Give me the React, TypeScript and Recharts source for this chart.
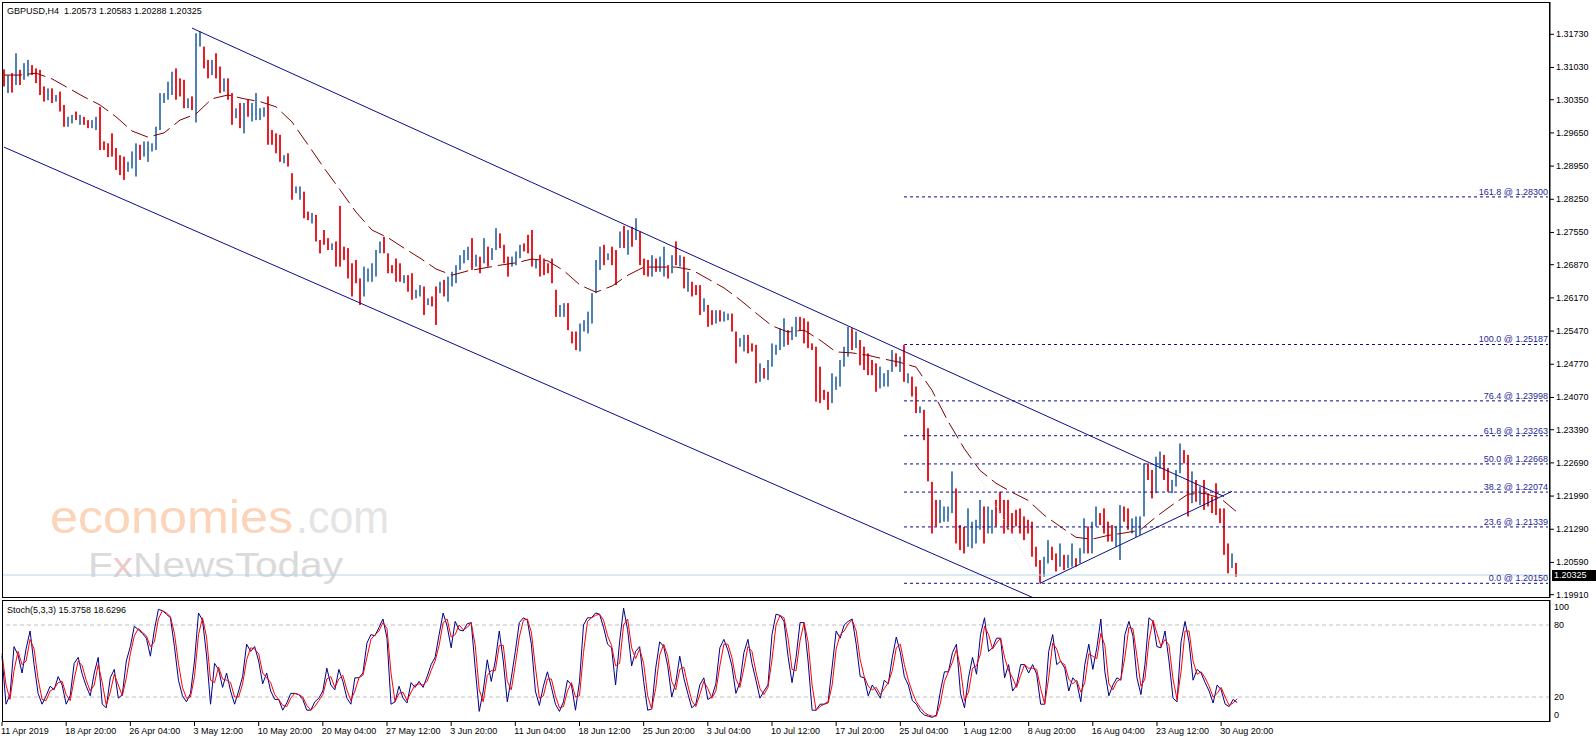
import React from 'react';
import { ComposedChart, Bar, Line, XAxis, YAxis, ReferenceLine } from 'recharts';

// GBPUSD H4, one row = two H4 bars
const SYMBOL = 'GBPUSD,H4';
const QUOTE = ['1.20573', '1.20583', '1.20288', '1.20325'];
const STOCH_TITLE = 'Stoch(5,3,3) 15.3758 18.6296';
const BID = 1.20325;
const SLOTS = 387; // chart shift: empty slots on the right

const highs = [
  1.3099, 1.3087, 1.3091, 1.3133, 1.3098, 1.3112, 1.3119, 1.3108, 1.3101, 1.3098,
  1.3063, 1.3059, 1.3059, 1.3045, 1.3052, 1.3024, 1.2999, 1.3003, 1.3010, 1.3003,
  1.2999, 1.2992, 1.2992, 1.2999, 1.3020, 1.2947, 1.2943, 1.2964, 1.2933, 1.2918,
  1.2915, 1.2904, 1.2926, 1.2943, 1.2940, 1.2947, 1.2947, 1.2943, 1.2978, 1.3049,
  1.3049, 1.3073, 1.3094, 1.3101, 1.3080, 1.3077, 1.3038, 1.3042, 1.3175, 1.3179,
  1.3147, 1.3119, 1.3119, 1.3133, 1.3105, 1.3080, 1.3080, 1.3049, 1.3017, 1.3028,
  1.3028, 1.3035, 1.3028, 1.3049, 1.3017, 1.3019, 1.3042, 1.2971, 1.2964, 1.2961,
  1.2918, 1.2922, 1.2880, 1.2852, 1.2852, 1.2841, 1.2799, 1.2796, 1.2792, 1.2739,
  1.2760, 1.2743, 1.2732, 1.2736, 1.2811, 1.2725, 1.2722, 1.2690, 1.2697, 1.2658,
  1.2683, 1.2679, 1.2690, 1.2718, 1.2736, 1.2746, 1.2711, 1.2686, 1.2700, 1.2690,
  1.2665, 1.2665, 1.2669, 1.2634, 1.2644, 1.2641, 1.2616, 1.2620, 1.2641, 1.2651,
  1.2655, 1.2662, 1.2672, 1.2686, 1.2707, 1.2718, 1.2725, 1.2743, 1.2708, 1.2704,
  1.2743, 1.2725, 1.2722, 1.2764, 1.2753, 1.2729, 1.2704, 1.2704, 1.2715, 1.2729,
  1.2732, 1.2750, 1.2760, 1.2697, 1.2708, 1.2700, 1.2690, 1.2700, 1.2634, 1.2602,
  1.2606, 1.2606, 1.2546, 1.2546, 1.2563, 1.2570, 1.2588, 1.2627, 1.2697, 1.2725,
  1.2729, 1.2711, 1.2725, 1.2718, 1.2757, 1.2769, 1.2760, 1.2767, 1.2785, 1.2757,
  1.2700, 1.2697, 1.2707, 1.2700, 1.2704, 1.2725, 1.2686, 1.2707, 1.2736, 1.2707,
  1.2704, 1.2672, 1.2651, 1.2644, 1.2644, 1.2616, 1.2602, 1.2591, 1.2591, 1.2591,
  1.2588, 1.2584, 1.2584, 1.2546, 1.2532, 1.2539, 1.2539, 1.2521, 1.2518, 1.2479,
  1.2469, 1.2486, 1.2521, 1.2518, 1.2553, 1.2574, 1.2549, 1.2556, 1.2577, 1.2577,
  1.2574, 1.2567, 1.2521, 1.2514, 1.2472, 1.2423, 1.2419, 1.2458, 1.2451, 1.2486,
  1.2514, 1.2556, 1.2553, 1.2546, 1.2528, 1.2514, 1.2500, 1.2486, 1.2479, 1.2472,
  1.2458, 1.2465, 1.2507, 1.2500, 1.2493, 1.2518, 1.2458, 1.2451, 1.2430, 1.2388,
  1.2381, 1.2342, 1.2229, 1.2191, 1.2191, 1.2177, 1.2177, 1.2251, 1.2215, 1.2138,
  1.2134, 1.2173, 1.2145, 1.2149, 1.2191, 1.2177, 1.2177, 1.2170, 1.2191, 1.2208,
  1.2191, 1.2191, 1.2163, 1.2170, 1.2173, 1.2156, 1.2149, 1.2145, 1.2092, 1.2064,
  1.2071, 1.2106, 1.2092, 1.2078, 1.2099, 1.2075, 1.2075, 1.2099, 1.2068, 1.2089,
  1.2152, 1.2135, 1.2145, 1.2177, 1.2163, 1.2173, 1.2145, 1.2138, 1.2135, 1.2180,
  1.2177, 1.2173, 1.2152, 1.2156, 1.2156, 1.2268, 1.2268, 1.2254, 1.2282, 1.2293,
  1.2286, 1.2258, 1.2233, 1.2254, 1.2310, 1.2296, 1.2286, 1.2251, 1.2233, 1.2219,
  1.2233, 1.2205, 1.2198, 1.2226, 1.2173, 1.2173, 1.2099, 1.2078, 1.2058,
];

const lows = [
  1.3063, 1.3049, 1.3050, 1.3066, 1.3066, 1.3077, 1.3084, 1.3087, 1.3070, 1.3045,
  1.3031, 1.3034, 1.3028, 1.3031, 1.3010, 1.2978, 1.2978, 1.2985, 1.2992, 1.2982,
  1.2982, 1.2975, 1.2975, 1.2971, 1.2929, 1.2929, 1.2914, 1.2915, 1.2887, 1.2876,
  1.2866, 1.2883, 1.2890, 1.2873, 1.2908, 1.2915, 1.2904, 1.2926, 1.2929, 1.2971,
  1.3028, 1.3035, 1.3045, 1.3035, 1.3042, 1.3017, 1.3017, 1.3013, 1.2987, 1.3147,
  1.3101, 1.3080, 1.3087, 1.3080, 1.3049, 1.3052, 1.3035, 1.2982, 1.2996, 1.2975,
  1.2964, 1.2999, 1.2989, 1.2992, 1.2992, 1.2999, 1.2940, 1.2940, 1.2922, 1.2904,
  1.2901, 1.2894, 1.2824, 1.2838, 1.2824, 1.2785, 1.2781, 1.2774, 1.2736, 1.2711,
  1.2729, 1.2718, 1.2718, 1.2683, 1.2683, 1.2697, 1.2658, 1.2620, 1.2648, 1.2602,
  1.2620, 1.2651, 1.2651, 1.2662, 1.2711, 1.2711, 1.2669, 1.2669, 1.2651, 1.2651,
  1.2648, 1.2630, 1.2613, 1.2616, 1.2620, 1.2581, 1.2602, 1.2599, 1.2560, 1.2627,
  1.2620, 1.2609, 1.2641, 1.2648, 1.2676, 1.2690, 1.2697, 1.2676, 1.2683, 1.2669,
  1.2690, 1.2683, 1.2697, 1.2718, 1.2722, 1.2690, 1.2662, 1.2683, 1.2686, 1.2701,
  1.2715, 1.2711, 1.2683, 1.2679, 1.2662, 1.2665, 1.2669, 1.2648, 1.2577, 1.2577,
  1.2577, 1.2549, 1.2521, 1.2507, 1.2504, 1.2546, 1.2542, 1.2563, 1.2627, 1.2676,
  1.2686, 1.2697, 1.2686, 1.2644, 1.2722, 1.2722, 1.2708, 1.2725, 1.2739, 1.2686,
  1.2665, 1.2662, 1.2662, 1.2672, 1.2672, 1.2662, 1.2658, 1.2669, 1.2686, 1.2683,
  1.2637, 1.2630, 1.2620, 1.2623, 1.2581, 1.2588, 1.2556, 1.2560, 1.2563, 1.2567,
  1.2567, 1.2570, 1.2546, 1.2479, 1.2514, 1.2504, 1.2500, 1.2504, 1.2437, 1.2440,
  1.2447, 1.2444, 1.2472, 1.2497, 1.2507, 1.2514, 1.2518, 1.2528, 1.2535, 1.2549,
  1.2521, 1.2511, 1.2507, 1.2398, 1.2395, 1.2402, 1.2381, 1.2395, 1.2423, 1.2430,
  1.2472, 1.2493, 1.2507, 1.2511, 1.2475, 1.2465, 1.2454, 1.2454, 1.2419, 1.2426,
  1.2430, 1.2430, 1.2461, 1.2472, 1.2461, 1.2440, 1.2437, 1.2409, 1.2374, 1.2374,
  1.2317, 1.2230, 1.2120, 1.2135, 1.2142, 1.2145, 1.2145, 1.2163, 1.2099, 1.2085,
  1.2078, 1.2092, 1.2089, 1.2099, 1.2128, 1.2099, 1.2120, 1.2120, 1.2135, 1.2163,
  1.2120, 1.2128, 1.2120, 1.2135, 1.2120, 1.2106, 1.2120, 1.2071, 1.2050, 1.2015,
  1.2029, 1.2057, 1.2064, 1.2040, 1.2050, 1.2043, 1.2047, 1.2050, 1.2050, 1.2057,
  1.2078, 1.2078, 1.2078, 1.2135, 1.2138, 1.2120, 1.2103, 1.2103, 1.2092, 1.2064,
  1.2145, 1.2128, 1.2120, 1.2113, 1.2117, 1.2156, 1.2233, 1.2194, 1.2205, 1.2257,
  1.2233, 1.2208, 1.2205, 1.2219, 1.2247, 1.2268, 1.2156, 1.2184, 1.2187, 1.2180,
  1.2170, 1.2177, 1.2163, 1.2159, 1.2142, 1.2075, 1.2036, 1.2047, 1.2029,
];

// u = bull bar, d = bear bar
const dirs = [
  'dududuuddd', 'dududduudu', 'dduudddddd', 'duuuduuuuu', 'uuuddduduu',
  'ddudduddud', 'uduuuudddd', 'udduuddudd', 'dduddddddd', 'uuuuuddddd',
  'udduududdu', 'duuuuuudud', 'uduuddduuu', 'dddudddddu', 'uddduuuuuu',
  'duddududud', 'dduduududu', 'duddduddud', 'uudduudddu', 'duuuuuduud',
  'ddddddduuu', 'uududddddu', 'uuudududdu', 'dddduuuudd', 'duuuuduudd',
  'dddddddddd', 'uudduduudu', 'uduudddduu', 'dduuuudduu', 'dduuuddudu',
  'dddddddud',
].join('');

// moving average, one value every 4 rows
const maValues = [
  1.3087, 1.3087, 1.3091, 1.3079, 1.3060, 1.3041, 1.3024, 1.2999, 1.2969, 1.2956,
  1.2965, 1.2992, 1.3005, 1.3037, 1.3045, 1.3037, 1.3031, 1.3020, 1.2988, 1.2940,
  1.2891, 1.2845, 1.2798, 1.2760, 1.2744, 1.2722, 1.2701, 1.2678, 1.2665, 1.2674,
  1.2680, 1.2686, 1.2691, 1.2699, 1.2695, 1.2674, 1.2644, 1.2629, 1.2642, 1.2665,
  1.2682, 1.2682, 1.2682, 1.2676, 1.2657, 1.2638, 1.2613, 1.2585, 1.2558, 1.2545,
  1.2549, 1.2528, 1.2503, 1.2501, 1.2496, 1.2488, 1.2481, 1.2471, 1.2422, 1.2357,
  1.2300, 1.2253, 1.2226, 1.2207, 1.2190, 1.2159, 1.2135, 1.2112, 1.2108, 1.2116,
  1.2121, 1.2127, 1.2155, 1.2180, 1.2203, 1.2205, 1.2195, 1.2167,
];

const stochMain = [
  54, 14, 22, 62, 55, 40, 60, 75, 47, 23, 14, 21, 29, 26, 37, 30, 14, 21, 48, 53,
  39, 29, 21, 40, 53, 14, 11, 36, 43, 19, 22, 50, 62, 79, 76, 73, 69, 54, 76, 93,
  92, 89, 86, 62, 34, 21, 16, 23, 50, 90, 84, 55, 14, 48, 43, 28, 40, 25, 14, 25,
  37, 64, 58, 62, 50, 31, 40, 25, 18, 18, 9, 15, 23, 23, 22, 18, 9, 9, 16, 19,
  25, 44, 30, 26, 43, 33, 19, 14, 36, 36, 40, 65, 72, 71, 78, 85, 69, 14, 16, 29,
  19, 15, 32, 28, 33, 28, 37, 47, 53, 72, 90, 79, 61, 83, 76, 75, 81, 82, 44, 8,
  25, 51, 33, 50, 75, 50, 16, 36, 58, 82, 86, 84, 64, 25, 13, 29, 41, 28, 14, 8,
  16, 34, 30, 9, 33, 80, 86, 86, 90, 89, 78, 64, 61, 30, 66, 94, 76, 46, 58, 62,
  33, 9, 10, 44, 66, 62, 46, 20, 32, 54, 36, 23, 11, 14, 30, 36, 18, 20, 31, 61,
  68, 59, 46, 23, 32, 57, 68, 48, 34, 19, 25, 30, 72, 89, 88, 83, 54, 32, 53, 82,
  82, 50, 9, 9, 14, 14, 16, 45, 75, 69, 80, 83, 85, 64, 37, 36, 21, 30, 25, 19,
  34, 31, 53, 70, 57, 37, 30, 17, 14, 8, 5, 4, 3, 5, 25, 41, 41, 57, 64, 23,
  11, 36, 53, 39, 72, 86, 58, 61, 69, 69, 36, 47, 25, 30, 47, 47, 40, 47, 39, 14,
  14, 58, 72, 47, 50, 44, 25, 36, 32, 16, 47, 64, 43, 61, 85, 41, 21, 30, 36, 34,
  72, 83, 71, 36, 22, 47, 86, 83, 62, 61, 75, 50, 19, 16, 66, 83, 66, 34, 43, 40,
  32, 25, 15, 30, 26, 14, 12, 18, 15.38,
];

const stochSignal = [
  56, 30, 18, 42, 58, 47, 50, 68, 60, 35, 18, 17, 25, 27, 32, 33, 22, 17, 35, 50,
  46, 34, 25, 30, 47, 32, 13, 24, 39, 30, 21, 36, 56, 71, 77, 74, 71, 62, 66, 85,
  92, 90, 87, 73, 48, 28, 19, 20, 37, 72, 86, 70, 34, 32, 45, 35, 34, 32, 20, 20,
  31, 51, 61, 60, 56, 40, 36, 32, 22, 18, 13, 12, 19, 23, 22, 20, 13, 9, 12, 17,
  22, 35, 37, 28, 35, 38, 26, 17, 25, 36, 38, 53, 68, 72, 75, 82, 77, 40, 16, 23,
  24, 17, 24, 30, 31, 30, 33, 42, 50, 63, 82, 85, 70, 72, 80, 76, 78, 82, 63, 26,
  16, 38, 42, 42, 63, 63, 33, 26, 47, 70, 84, 85, 74, 45, 19, 21, 35, 35, 21, 11,
  12, 25, 32, 20, 21, 57, 83, 86, 88, 89, 84, 71, 63, 46, 48, 80, 85, 61, 52, 60,
  48, 21, 10, 27, 55, 64, 54, 33, 26, 43, 45, 30, 17, 12, 22, 33, 27, 19, 25, 46,
  64, 64, 53, 35, 28, 44, 62, 58, 41, 27, 22, 28, 51, 80, 88, 86, 69, 43, 42, 67,
  82, 66, 30, 9, 12, 14, 15, 30, 60, 72, 75, 81, 84, 75, 51, 37, 29, 26, 28, 22,
  27, 32, 42, 61, 64, 47, 34, 24, 16, 11, 7, 5, 4, 4, 15, 33, 41, 49, 60, 44,
  17, 24, 44, 46, 56, 79, 72, 60, 65, 69, 53, 42, 36, 28, 38, 47, 44, 44, 43, 27,
  14, 36, 65, 60, 49, 47, 35, 31, 34, 24, 32, 56, 54, 52, 73, 63, 31, 26, 33, 35,
  53, 78, 77, 54, 29, 35, 67, 84, 73, 62, 68, 63, 35, 18, 41, 75, 75, 50, 39, 41,
  36, 29, 20, 23, 28, 20, 13, 15, 18.63,
];

const timeLabels = [
  '11 Apr 2019', '18 Apr 20:00', '26 Apr 04:00', '3 May 12:00', '10 May 20:00',
  '20 May 04:00', '27 May 12:00', '3 Jun 20:00', '11 Jun 04:00', '18 Jun 12:00',
  '25 Jun 20:00', '3 Jul 04:00', '10 Jul 12:00', '17 Jul 20:00', '25 Jul 04:00',
  '1 Aug 12:00', '8 Aug 20:00', '16 Aug 04:00', '23 Aug 12:00', '30 Aug 20:00',
];
const ROWS_PER_LABEL = 16;

const priceTicks = [
  1.3173, 1.3103, 1.3035, 1.2965, 1.2895, 1.2825, 1.2755, 1.2687, 1.2617,
  1.2547, 1.2477, 1.2407, 1.2339, 1.2269, 1.2199, 1.2129, 1.2059, 1.1991,
];

const fibPct = ['161.8', '100.0', '76.4', '61.8', '50.0', '38.2', '23.6', '0.0'];
const fibPrice = [1.283, 1.25187, 1.23998, 1.23263, 1.22668, 1.22074, 1.21339, 1.2015];
const FIB_START = 225;

// trend lines, {row, price}
const upperChannel = [{ x: 47, y: 1.3186 }, { x: 305, y: 1.2198 }];
const lowerChannel = [{ x: 0, y: 1.2935 }, { x: 258, y: 1.1982 }];
const supportLine = [{ x: 259, y: 1.2015 }, { x: 307, y: 1.2209 }];
const fibBase = [{ x: FIB_START, y: 1.25187 }, { x: 259, y: 1.2015 }];

const UP = '#4f81b5';
const DOWN = '#ec1c24';
const NAVY = '#0c0c8c';
const FONT = "'Liberation Sans', Arial, sans-serif";

const rows = Array.from({ length: SLOTS }, (_, i) => ({
  i,
  range: i < highs.length ? [lows[i], highs[i]] : null,
  up: dirs[i] === 'u',
  ma: i % 4 === 0 && i / 4 < maValues.length ? maValues[i / 4] : null,
  k: i < stochMain.length ? stochMain[i] : null,
  d: i < stochSignal.length ? stochSignal[i] : null,
}));

const labelTicks = timeLabels.map((_, n) => n * ROWS_PER_LABEL);

const PriceBar = (p: any) => {
  if (!p.payload || p.payload.range == null) return null;
  const cx = Math.round(p.x + p.width / 2);
  const top = p.height < 0 ? p.y + p.height : p.y;
  const h = Math.max(1, Math.abs(p.height));
  return <rect x={cx - 1} y={top} width={2} height={h} fill={p.payload.up ? UP : DOWN} />;
};

const PriceTick = ({ x, y, payload }: any) => (
  <g>
    <line x1={x} x2={x + 4} y1={y} y2={y} stroke="#000" />
    <text x={x + 6} y={y + 3} fontSize={9} fontFamily={FONT} fill="#000">
      {Number(payload.value).toFixed(5)}
    </text>
  </g>
);

const StochTick = ({ x, y, payload }: any) => {
  const v = payload.value;
  const dy = v === 100 ? 6 : v === 0 ? -6 : 0;
  return (
    <text x={x + 4} y={y + dy + 3} fontSize={9} fontFamily={FONT} fill="#000">
      {v}
    </text>
  );
};

const TimeTick = ({ x, y, payload }: any) => (
  <g>
    <line x1={x} x2={x} y1={y} y2={y + 4} stroke="#000" />
    <text x={x - 1} y={y + 12} fontSize={9} fontFamily={FONT} fill="#000">
      {timeLabels[payload.value / ROWS_PER_LABEL]}
    </text>
  </g>
);

const FibLabel = (props: any) => {
  const vb = props.viewBox || {};
  return (
    <text x={vb.x + vb.width} y={vb.y - 2} textAnchor="end" fontSize={9} fontFamily={FONT} fill="#1f1f99">
      {props.text}
    </text>
  );
};

const BidTag = (props: any) => {
  const vb = props.viewBox || {};
  const right = vb.x + vb.width;
  return (
    <g>
      <rect x={right + 2} y={vb.y - 5} width={44} height={11} fill="#000" />
      <text x={right + 4} y={vb.y + 3} fontSize={9} fontFamily={FONT} fill="#fff">
        {BID.toFixed(5)}
      </text>
    </g>
  );
};

export default function App() {
  return (
    <div style={{ position: 'relative', width: 1596, height: 743, background: '#fff', overflow: 'hidden' }}>
      <style>{'body{margin:0}'}</style>

      <svg width={1596} height={743} style={{ position: 'absolute', left: 0, top: 0 }}>
        <text x={50} y={533} fontFamily={FONT} fontSize={46} fill="#fbd4b9" textLength={243} lengthAdjust="spacingAndGlyphs">
          economies
        </text>
        <text x={296} y={533} fontFamily={FONT} fontSize={46} fill="#e4e4e4" textLength={93} lengthAdjust="spacingAndGlyphs">
          .com
        </text>
        <text x={88} y={577} fontFamily={FONT} fontSize={35} fill="#dadada" textLength={255} lengthAdjust="spacingAndGlyphs">
          F<tspan fill="#eccaca">x</tspan>NewsToday
        </text>
      </svg>

      <div style={{ position: 'absolute', left: 0, top: 0 }}>
        <ComposedChart width={1596} height={600} data={rows} margin={{ top: 2, right: 0, bottom: 2, left: 2 }} barCategoryGap={0}>
          <XAxis dataKey="i" type="category" hide />
          <YAxis
            orientation="right"
            width={46}
            type="number"
            domain={[1.1984, 1.32411]}
            allowDataOverflow
            ticks={priceTicks}
            interval={0}
            tickLine={false}
            tickSize={0}
            tickMargin={0}
            axisLine={{ stroke: '#000' }}
            tick={<PriceTick />}
          />
          <ReferenceLine y={BID} stroke="#b4d8e4" label={<BidTag />} />
          {fibPrice.map((p, n) => (
            <ReferenceLine
              key={fibPct[n]}
              segment={[{ x: FIB_START, y: p }, { x: SLOTS - 1, y: p }]}
              stroke={NAVY}
              strokeDasharray="3 3"
              ifOverflow="visible"
              label={<FibLabel text={`${fibPct[n]} @ ${p.toFixed(5)}`} />}
            />
          ))}
          <ReferenceLine segment={fibBase} stroke="#d8d8f0" strokeDasharray="1 2" ifOverflow="hidden" />
          <Bar dataKey="range" isAnimationActive={false} shape={<PriceBar />} />
          <Line
            dataKey="ma"
            type="linear"
            stroke="#800000"
            strokeWidth={1}
            strokeDasharray="18 6"
            dot={false}
            activeDot={false}
            connectNulls
            isAnimationActive={false}
          />
          <ReferenceLine segment={upperChannel} stroke={NAVY} ifOverflow="hidden" />
          <ReferenceLine segment={lowerChannel} stroke={NAVY} ifOverflow="hidden" />
          <ReferenceLine segment={supportLine} stroke={NAVY} ifOverflow="hidden" />
        </ComposedChart>
      </div>

      <div style={{ position: 'absolute', left: 0, top: 600 }}>
        <ComposedChart width={1596} height={143} data={rows} margin={{ top: 0, right: 0, bottom: 0, left: 2 }}>
          <XAxis
            dataKey="i"
            type="category"
            height={21}
            ticks={labelTicks}
            interval={0}
            axisLine={false}
            tickLine={false}
            tickSize={0}
            tickMargin={0}
            tick={<TimeTick />}
          />
          <YAxis
            orientation="right"
            width={46}
            type="number"
            domain={[-0.83, 100.83]}
            allowDataOverflow
            ticks={[0, 20, 80, 100]}
            interval={0}
            tickLine={false}
            tickSize={0}
            tickMargin={0}
            axisLine={{ stroke: '#000' }}
            tick={<StochTick />}
          />
          <ReferenceLine y={80} stroke="#c0c0c0" strokeDasharray="4 3" />
          <ReferenceLine y={20} stroke="#c0c0c0" strokeDasharray="4 3" />
          <Line dataKey="k" type="linear" stroke="#00008b" strokeWidth={1} dot={false} activeDot={false} isAnimationActive={false} />
          <Line dataKey="d" type="linear" stroke="#ff0000" strokeWidth={1} dot={false} activeDot={false} isAnimationActive={false} />
        </ComposedChart>
      </div>

      <svg width={1596} height={743} style={{ position: 'absolute', left: 0, top: 0, pointerEvents: 'none' }}>
        <rect x={2.5} y={2.5} width={1547} height={595} fill="none" stroke="#000" />
        <rect x={2.5} y={600.5} width={1547} height={121} fill="none" stroke="#000" />
        <text x={7} y={14} fontSize={9} fontFamily={FONT} fill="#000" style={{ whiteSpace: 'pre' }}>
          {`${SYMBOL}  ${QUOTE.join(' ')}`}
        </text>
        <text x={7} y={613} fontSize={9} fontFamily={FONT} fill="#000">
          {STOCH_TITLE}
        </text>
      </svg>
    </div>
  );
}
